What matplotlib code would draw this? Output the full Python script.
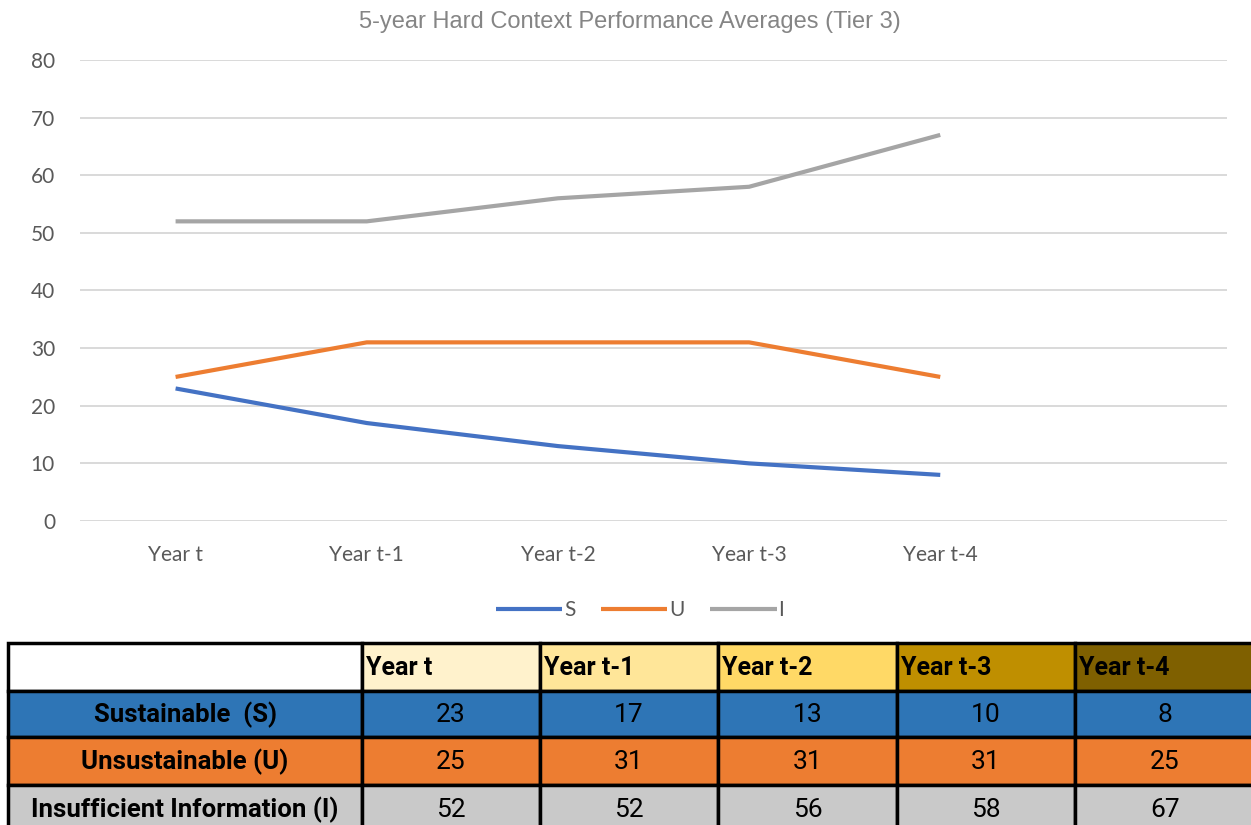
import matplotlib
matplotlib.use('Agg')
import matplotlib.pyplot as plt
from matplotlib.patches import Rectangle
import numpy as np

# chart data
years = ['Year t', 'Year t-1', 'Year t-2', 'Year t-3', 'Year t-4']
series_names = ['S', 'U', 'I']
row_labels = ['Sustainable  (S)', 'Unsustainable (U)', 'Insufficient Information (I)']
sustainable = [23, 17, 13, 10, 8]
unsustainable = [25, 31, 31, 31, 25]
insufficient = [52, 52, 56, 58, 67]
y_ticks = [0, 10, 20, 30, 40, 50, 60, 70, 80]

line_colors = ['#4472C4', '#ED7D31', '#A5A5A5']
row_colors = ['#2E75B6', '#ED7D31', '#C9C9C9']
head_colors = ['#FFF2CC', '#FFE699', '#FFD966', '#BF8F00', '#7F6000']

W, H = 1251, 825
fig = plt.figure(figsize=(W / 100, H / 100), dpi=100)

# line chart axes, placed in pixel terms
left, right, top, bottom = 80, 1227, 60, 521
ax = fig.add_axes([left / W, 1 - bottom / H, (right - left) / W, (bottom - top) / H])
x = np.arange(len(years)) + 0.5
for vals, name, c in zip([sustainable, unsustainable, insufficient], series_names, line_colors):
    ax.plot(x, vals, color=c, lw=3, label=name, solid_capstyle='butt')
ax.set_xlim(0, 6)
ax.set_ylim(0, 80)
ax.set_yticks(y_ticks)
ax.set_xticks(x)
ax.set_xticklabels(years)
ax.grid(axis='y', color='#D9D9D9', lw=1.4)
ax.set_axisbelow(True)
for s in ax.spines.values():
    s.set_visible(False)
ax.tick_params(length=0, labelsize=15, labelcolor='#595959')
for t in ax.get_xticklabels() + ax.get_yticklabels():
    t.set_family(['Lato', 'DejaVu Sans'])
ax.tick_params(axis='x', pad=17)
ax.tick_params(axis='y', pad=18)

fig.text(630 / W, 1 - 22 / H, '5-year Hard Context Performance Averages (Tier 3)',
         ha='center', va='center', fontsize=17, color='#858585',
         family=['Liberation Sans', 'DejaVu Sans'])

leg = fig.legend(loc='center', bbox_to_anchor=(640 / W, 1 - 610 / H), ncol=3, frameon=False,
                 handlelength=3.2, handletextpad=0.1, columnspacing=1.2,
                 prop={'family': ['Lato', 'DejaVu Sans'], 'size': 15})
for t in leg.get_texts():
    t.set_color('#595959')

# table drawn in pixel coordinates
tax = fig.add_axes([0, 0, 1, 1])
tax.set_xlim(0, W)
tax.set_ylim(H, 0)
tax.axis('off')
col_edges = [8, 362, 540, 718, 897, 1075, 1255]
row_edges = [643, 691, 737, 785, 833]
font = ['Roboto', 'DejaVu Sans']
table_vals = [sustainable, unsustainable, insufficient]

# header row
tax.add_patch(Rectangle((col_edges[0], row_edges[0]), col_edges[1] - col_edges[0],
                        row_edges[1] - row_edges[0], facecolor='white', edgecolor='black', lw=2.5))
for j, (yr, hc) in enumerate(zip(years, head_colors)):
    x0 = col_edges[j + 1]
    tax.add_patch(Rectangle((x0, row_edges[0]), col_edges[j + 2] - x0, row_edges[1] - row_edges[0],
                            facecolor=hc, edgecolor='black', lw=2.5))
    tax.text(x0 + 4, (row_edges[0] + row_edges[1]) / 2 + 1, yr, ha='left', va='center',
             fontsize=18, fontweight='bold', family=font, color='black')

for i, (lab, rc, vals) in enumerate(zip(row_labels, row_colors, table_vals)):
    y0, y1 = row_edges[i + 1], row_edges[i + 2]
    for j in range(6):
        tax.add_patch(Rectangle((col_edges[j], y0), col_edges[j + 1] - col_edges[j], y1 - y0,
                                facecolor=rc, edgecolor='black', lw=2.5))
    tax.text((col_edges[0] + col_edges[1]) / 2, (y0 + y1) / 2 + 1, lab, ha='center', va='center',
             fontsize=18.5, fontweight='bold', family=font, color='black')
    for j, v in enumerate(vals):
        tax.text((col_edges[j + 1] + col_edges[j + 2]) / 2, (y0 + y1) / 2 + 1, str(v),
                 ha='center', va='center', fontsize=19, family=font, color='black')

fig.savefig('out.png', dpi=100)
